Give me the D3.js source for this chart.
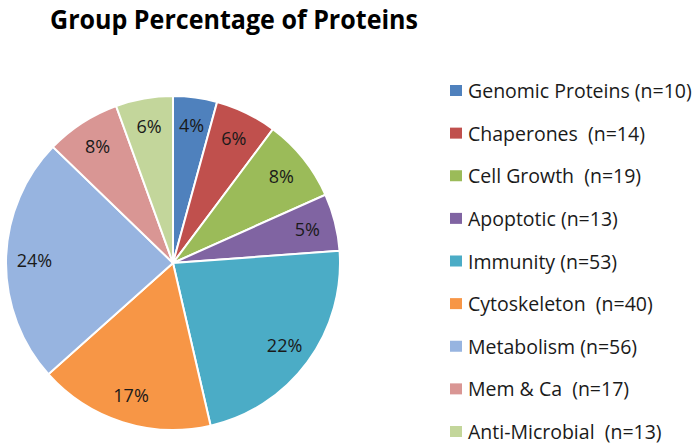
<!DOCTYPE html>
<html><head><meta charset="utf-8">
<script src="https://cdn.jsdelivr.net/npm/d3@7"></script>
<style>body{margin:0;background:#fff}svg{display:block}text{white-space:pre}</style>
</head><body>
<script>
const categories = ["Genomic Proteins","Chaperones","Cell Growth","Apoptotic","Immunity","Cytoskeleton","Metabolism","Mem & Ca","Anti-Microbial"];
const legendLabels = ["Genomic Proteins (n=10)","Chaperones  (n=14)","Cell Growth  (n=19)","Apoptotic (n=13)","Immunity (n=53)","Cytoskeleton  (n=40)","Metabolism (n=56)","Mem & Ca  (n=17)","Anti-Microbial  (n=13)"];
const counts = [10,14,19,13,53,40,56,17,13];
const percentLabels = ["4%","6%","8%","5%","22%","17%","24%","8%","6%"];
const colors = ["#4F81BD","#C0504D","#9BBB59","#8064A2","#4BACC6","#F79646","#97B4E0","#D99694","#C3D69B"];

const W=697,H=447;
const svg=d3.select("body").append("svg").attr("width",W).attr("height",H);
const font="'Open Sans', sans-serif";

svg.append("text").attr("x",50).attr("y",29)
  .attr("font-family",font).attr("font-weight","bold").attr("font-size",27)
  .attr("textLength",368).attr("lengthAdjust","spacingAndGlyphs")
  .attr("fill","#000").text("Group Percentage of Proteins");

const cx=173,cy=263,r=167;
const pie=d3.pie().sort(null).value(d=>d);
const arcs=pie(counts);
const arc=d3.arc().innerRadius(0).outerRadius(r);
const labelArc=d3.arc().innerRadius(r*0.83).outerRadius(r*0.83);
const g=svg.append("g").attr("transform",`translate(${cx},${cy})`);
g.selectAll("path").data(arcs).join("path").attr("d",arc)
  .attr("fill",(d,i)=>colors[i]).attr("stroke","#fff").attr("stroke-width",2);
g.selectAll("text").data(arcs).join("text")
  .attr("transform",d=>`translate(${labelArc.centroid(d)})`)
  .attr("text-anchor","middle").attr("dy","0.36em")
  .attr("font-family",font).attr("font-size",18).attr("fill","#1a1a1a")
  .text((d,i)=>percentLabels[i]);

const ly=d3.scalePoint().domain(categories).range([91,432]);
const lg=svg.append("g");
const items=lg.selectAll("g").data(categories).join("g")
  .attr("transform",d=>`translate(450,${ly(d)})`);
items.append("rect").attr("x",0).attr("y",-6).attr("width",12).attr("height",11)
  .attr("fill",(d,i)=>colors[i]);
items.append("text").attr("x",18).attr("dy","0.36em")
  .attr("font-family",font).attr("font-size",19.5).attr("fill","#1a1a1a")
  .text((d,i)=>legendLabels[i]);
</script>
</body></html>
